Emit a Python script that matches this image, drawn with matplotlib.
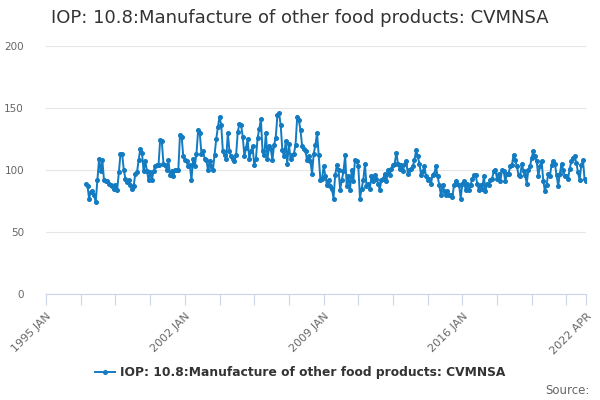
import matplotlib.pyplot as plt
import pandas as pd

title = "IOP: 10.8:Manufacture of other food products: CVMNSA"

# monthly index values, Jan 1997 .. Apr 2022
v1997 = [88.7, 87, 77, 82.5, 83, 80, 74, 92, 109, 99, 108, 92]
v1998 = [91, 91, 89, 88, 87, 85, 88, 84, 98, 113, 113, 100]
v1999 = [93, 90, 92, 88, 85, 87, 97, 98, 108, 117, 114, 99]
v2000 = [107, 99, 92, 98, 92, 99, 103, 104, 104, 124, 123, 105]
v2001 = [104, 100, 108, 96, 99, 95, 100, 100, 100, 128, 127, 111]
v2002 = [108, 107, 103, 104, 92, 109, 103, 113, 132, 130, 113, 115]
v2003 = [109, 108, 100, 107, 103, 100, 112, 125, 135, 143, 136, 115]
v2004 = [112, 109, 130, 115, 111, 109, 107, 112, 131, 137, 136, 127]
v2005 = [111, 118, 125, 109, 115, 119, 104, 109, 126, 133, 141, 115]
v2006 = [112, 130, 109, 119, 117, 108, 120, 126, 144, 146, 136, 116]
v2007 = [111, 123, 105, 121, 109, 112, 113, 120, 143, 140, 132, 119]
v2008 = [117, 115, 108, 111, 107, 97, 113, 120, 130, 112, 92, 93]
v2009 = [103, 95, 88, 92, 87, 85, 77, 96, 104, 100, 84, 92]
v2010 = [99, 112, 87, 95, 84, 100, 91, 108, 107, 103, 77, 85]
v2011 = [92, 105, 87, 89, 85, 95, 91, 96, 93, 89, 84, 92]
v2012 = [93, 97, 91, 100, 96, 101, 104, 105, 114, 105, 101, 104]
v2013 = [99, 105, 107, 97, 100, 101, 103, 108, 116, 111, 105, 96]
v2014 = [99, 103, 95, 92, 93, 89, 96, 97, 103, 95, 88, 80]
v2015 = [88, 83, 80, 83, 80, 80, 78.5, 88, 91, 89, 88, 77]
v2016 = [89, 91, 84, 89, 84, 88, 93, 96, 96, 89, 84, 88]
v2017 = [85, 95, 83, 89, 88, 92, 93, 99, 100, 93, 97, 91]
v2018 = [100, 99, 91, 97, 97, 103, 104, 112, 108, 103, 96, 95]
v2019 = [105, 99, 96, 89, 100, 103, 110, 115, 111, 107, 95, 103]
v2020 = [107, 91, 83, 88, 97, 95, 104, 107, 105, 96, 87, 97]
v2021 = [105, 100, 95, 95, 93, 101, 107, 110, 111, 106, 98, 92]
v2022 = [104, 108, 93, 91]

values = (v1997 + v1998 + v1999 + v2000 + v2001 + v2002 + v2003 + v2004 +
          v2005 + v2006 + v2007 + v2008 + v2009 + v2010 + v2011 + v2012 +
          v2013 + v2014 + v2015 + v2016 + v2017 + v2018 + v2019 + v2020 +
          v2021 + v2022)
dates = pd.date_range("1997-01-01", periods=len(values), freq="MS")

tick_dates = list(pd.date_range("1995-01-01", "2021-12-01", freq="21MS")) + [pd.Timestamp("2022-04-01")]
labelled = ["1995-01", "2002-01", "2009-01", "2016-01", "2022-04"]
tick_labels = [d.strftime("%Y %b").upper() if d.strftime("%Y-%m") in labelled else "" for d in tick_dates]

blue = "#137bc1"
fig = plt.figure(figsize=(6, 4), dpi=100)
ax = fig.add_axes([0.077, 0.265, 0.900, 0.620])

ax.plot(dates, values, color=blue, lw=1.4, marker="o", markersize=2.6, label=title)

ax.set_ylim(0, 200)
ax.set_yticks([0, 50, 100, 150, 200])
ax.set_xlim(pd.Timestamp("1995-01-01"), pd.Timestamp("2022-04-01"))
ax.set_xticks(tick_dates)
ax.set_xticklabels(tick_labels, rotation=45, ha="right", va="top", rotation_mode="anchor")

ax.grid(axis="y", color="#e6e6e6", lw=0.8)
ax.set_axisbelow(True)
for s in ["top", "right", "left"]:
    ax.spines[s].set_visible(False)
ax.spines["bottom"].set_color("#ccd6eb")
ax.tick_params(axis="x", length=8, color="#ccd6eb", labelsize=8, labelcolor="#666666", pad=4)
ax.tick_params(axis="y", length=0, labelsize=7.5, labelcolor="#666666", pad=16)

fig.text(0.5, 0.955, title, ha="center", va="center", fontsize=13, color="#333333")
leg = fig.legend(loc="center", bbox_to_anchor=(0.5, 0.068), frameon=False,
                 prop={"size": 8.8, "weight": "bold"}, handlelength=1.6, handletextpad=0.4)
for t in leg.get_texts():
    t.set_color("#333333")
fig.text(0.983, 0.025, "Source:", ha="right", va="center", fontsize=8.5, color="#666666")

fig.savefig("out.png", dpi=100)
